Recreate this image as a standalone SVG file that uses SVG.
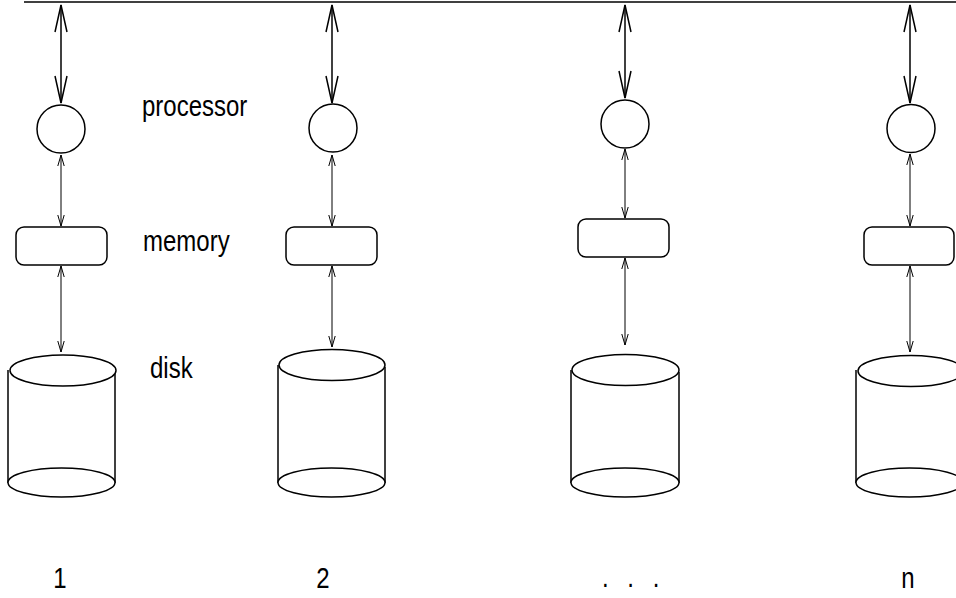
<svg xmlns="http://www.w3.org/2000/svg" width="956" height="598" viewBox="0 0 956 598">
  <defs>
    <marker id="bigHead" markerUnits="userSpaceOnUse" viewBox="-29 -8 31 16" refX="0" refY="0" markerWidth="31" markerHeight="16" orient="auto-start-reverse">
      <path d="M -27 -6 L 0 0 L -27 6" fill="none" stroke="#000" stroke-width="1.5"/>
    </marker>
    <marker id="smallHead" markerUnits="userSpaceOnUse" viewBox="-12 -5 14 10" refX="0" refY="0" markerWidth="14" markerHeight="10" orient="auto-start-reverse">
      <path d="M -11 -3.2 L 0 0 L -11 3.2" fill="none" stroke="#000" stroke-width="1"/>
    </marker>
  </defs>
  <style>
    .shape { fill: #fff; stroke: #000; stroke-width: 1.5; }
    .bus { stroke: #000; stroke-width: 1.5; fill: none; }
    .link-big { stroke: #000; stroke-width: 1.5; fill: none; marker-start: url(#bigHead); marker-end: url(#bigHead); }
    .link { stroke: #000; stroke-width: 1; fill: none; marker-start: url(#smallHead); marker-end: url(#smallHead); }
    .label { font-family: "Liberation Sans", Arial, Helvetica, sans-serif; font-size: 24px; fill: #000; }
  </style>

  <rect width="956" height="598" fill="#fff"/>

  <!-- interconnect bus -->
  <line class="bus" x1="24" y1="2" x2="956" y2="2"/>

  <!-- connectors -->
  <g id="connectors">
    <line class="link-big" x1="61" y1="5" x2="61" y2="103"/>
    <line class="link-big" x1="332" y1="5" x2="332" y2="103"/>
    <line class="link-big" x1="625" y1="5" x2="625" y2="98"/>
    <line class="link-big" x1="910" y1="5" x2="910" y2="103"/>

    <line class="link" x1="61" y1="155" x2="61" y2="226"/>
    <line class="link" x1="332" y1="155" x2="332" y2="226"/>
    <line class="link" x1="625" y1="149" x2="625" y2="218"/>
    <line class="link" x1="910" y1="154" x2="910" y2="226"/>

    <line class="link" x1="61" y1="266" x2="61" y2="352"/>
    <line class="link" x1="332" y1="266" x2="332" y2="347"/>
    <line class="link" x1="625" y1="258" x2="625" y2="345"/>
    <line class="link" x1="910" y1="266" x2="910" y2="352"/>
  </g>

  <!-- node 1 -->
  <g id="node1">
    <circle id="proc1" class="shape" cx="61" cy="129" r="24"/>
    <rect id="mem1" class="shape" x="16" y="227" width="91" height="38" rx="8"/>
    <g id="disk1">
      <line class="bus" x1="8" y1="370" x2="8" y2="483"/>
      <line class="bus" x1="115" y1="372" x2="115" y2="483"/>
      <ellipse class="shape" cx="61.5" cy="482.5" rx="53.5" ry="14.5"/>
      <ellipse class="shape" cx="63" cy="370.5" rx="53" ry="15.5"/>
    </g>
  </g>

  <!-- node 2 -->
  <g id="node2">
    <circle id="proc2" class="shape" cx="333" cy="128" r="24"/>
    <rect id="mem2" class="shape" x="286" y="227" width="91" height="38" rx="8"/>
    <g id="disk2">
      <line class="bus" x1="278" y1="365" x2="278" y2="483"/>
      <line class="bus" x1="385" y1="367" x2="385" y2="483"/>
      <ellipse class="shape" cx="331.5" cy="482.5" rx="53.5" ry="14.5"/>
      <ellipse class="shape" cx="332" cy="365" rx="53" ry="15.5"/>
    </g>
  </g>

  <!-- node 3 -->
  <g id="node3">
    <circle id="proc3" class="shape" cx="625" cy="124" r="24"/>
    <rect id="mem3" class="shape" x="578" y="219" width="91" height="38" rx="8"/>
    <g id="disk3">
      <line class="bus" x1="571" y1="370" x2="571" y2="483"/>
      <line class="bus" x1="679" y1="372" x2="679" y2="483"/>
      <ellipse class="shape" cx="625" cy="482.5" rx="54" ry="14.5"/>
      <ellipse class="shape" cx="625.5" cy="370" rx="53.5" ry="15.5"/>
    </g>
  </g>

  <!-- node n -->
  <g id="node4">
    <circle id="proc4" class="shape" cx="911" cy="128.5" r="24"/>
    <rect id="mem4" class="shape" x="864" y="227" width="90" height="38" rx="8"/>
    <g id="disk4">
      <line class="bus" x1="856" y1="370" x2="856" y2="483"/>
      <ellipse class="shape" cx="909.5" cy="482.5" rx="53.5" ry="14.5"/>
      <ellipse class="shape" cx="911" cy="371" rx="53" ry="15.5"/>
    </g>
  </g>

  <!-- component labels (slightly tall lettering) -->
  <text class="label" transform="translate(142 116) scale(1 1.2)">processor</text>
  <text class="label" transform="translate(143 251) scale(1 1.2)">memory</text>
  <text class="label" transform="translate(150 378) scale(1 1.2)">disk</text>

  <!-- node numbers -->
  <text class="label" transform="translate(60 588) scale(1 1.2)" text-anchor="middle">1</text>
  <text class="label" transform="translate(323 588) scale(1 1.2)" text-anchor="middle">2</text>
  <text class="label" transform="translate(602 587) scale(1 1.2)" style="word-spacing:12px" xml:space="preserve">. . .</text>
  <text class="label" transform="translate(908 588) scale(1 1.2)" text-anchor="middle">n</text>
</svg>
